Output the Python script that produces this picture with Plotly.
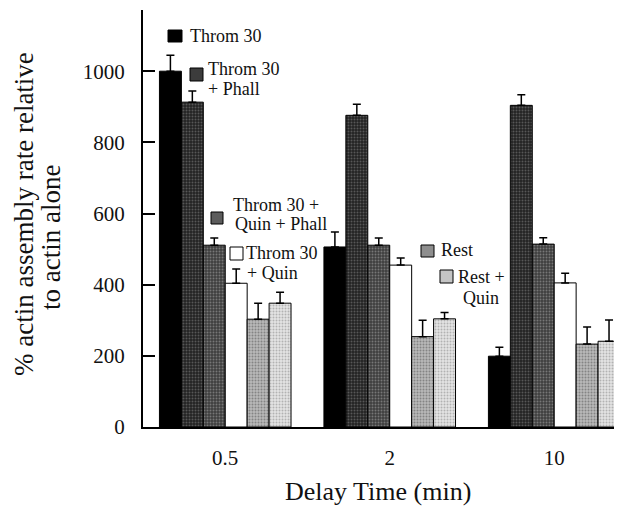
import plotly.graph_objects as go

delay_labels = ["0.5", "2", "10"]
series_names = ["Throm 30", "Throm 30 + Phall", "Throm 30 + Quin + Phall",
                "Throm 30 + Quin", "Rest", "Rest + Quin"]
throm30 = [1000, 506, 199]
throm30_phall = [913, 876, 904]
throm30_quin_phall = [511, 511, 514]
throm30_quin = [404, 455, 405]
rest = [303, 254, 233]
rest_quin = [348, 304, 241]
err_throm30 = [45, 42, 25]
err_throm30_phall = [31, 31, 30]
err_throm30_quin_phall = [20, 20, 18]
err_throm30_quin = [40, 20, 27]
err_rest = [45, 46, 48]
err_rest_quin = [31, 18, 60]

values = [throm30, throm30_phall, throm30_quin_phall, throm30_quin, rest, rest_quin]
errors = [err_throm30, err_throm30_phall, err_throm30_quin_phall, err_throm30_quin, err_rest, err_rest_quin]

styles = [
    dict(bg="#000000", fg="#000000", shape=""),
    dict(bg="#222222", fg="#8c8c8c", shape="."),
    dict(bg="#3e3e3e", fg="#b0b0b0", shape="."),
    dict(bg="#ffffff", fg="#ffffff", shape=""),
    dict(bg="#b8b8b8", fg="#505050", shape="."),
    dict(bg="#e4e4e4", fg="#808080", shape="."),
]
legend_fill = ["#000000", "#3c3c3c", "#5c5c5c", "#ffffff", "#8e8e8e", "#c4c4c4"]

FONT = "Liberation Serif"
OFF = 8  # default page body margin
W, H = 622 - OFF, 515 - OFF
L, R, T, B = 143 - OFF, 2, 10 - OFF, 88
YMAX = 1172

fig = go.Figure()
xs = list(range(len(delay_labels)))
for name, vals, errs, st in zip(series_names, values, errors, styles):
    fig.add_trace(go.Bar(
        x=xs, y=vals, name=name,
        marker=dict(color=st["bg"], line=dict(color="black", width=1),
                    pattern=dict(shape=st["shape"], bgcolor=st["bg"], fgcolor=st["fg"],
                                 size=3, solidity=0.35)),
        error_y=dict(type="data", array=errs, arrayminus=[0] * len(errs), symmetric=False,
                     color="black", thickness=1.5, width=4),
    ))

pw = W - L - R
ph = H - T - B


def px(x):
    return (x - OFF - L) / pw


def py(y):
    return (H - B - (y - OFF)) / ph


# in-plot legend: (square x0, y0, x1, y1), text lines with (x, y) positions (page pixels)
legend_items = [
    ((168, 30, 182, 42), [("Throm 30", 188, 36)]),
    ((190, 68, 203, 81), [("Throm 30", 206, 69), ("+ Phall", 206, 89)]),
    ((211, 212, 223, 224), [("Throm 30 +", 231, 205), ("Quin + Phall", 233, 224)]),
    ((230, 247, 243, 260), [("Throm 30", 244, 253), ("+ Quin", 245, 273)]),
    ((421, 245, 434, 257), [("Rest", 439, 250)]),
    ((440, 270, 453, 283), [("Rest +", 456, 277), ("Quin", 461, 298)]),
]
for (box, lines), fill in zip(legend_items, legend_fill):
    x0, y0, x1, y1 = box
    fig.add_shape(type="rect", xref="paper", yref="paper",
                  x0=px(x0), x1=px(x1), y0=py(y1), y1=py(y0),
                  fillcolor=fill, line=dict(color="black", width=1))
    for txt, tx, ty in lines:
        fig.add_annotation(text=txt, xref="paper", yref="paper", x=px(tx), y=py(ty),
                           xanchor="left", yanchor="middle", showarrow=False,
                           font=dict(family=FONT, size=18, color="#111"))

# axis titles
fig.add_annotation(text="% actin assembly rate relative", xref="paper", yref="paper",
                   x=px(24), y=py(214), textangle=-90, showarrow=False,
                   xanchor="center", yanchor="middle",
                   font=dict(family=FONT, size=27, color="#111"))
fig.add_annotation(text="to actin alone", xref="paper", yref="paper",
                   x=px(51), y=py(238), textangle=-90, showarrow=False,
                   xanchor="center", yanchor="middle",
                   font=dict(family=FONT, size=27, color="#111"))
fig.add_annotation(text="Delay Time (min)", xref="paper", yref="paper",
                   x=px(378), y=py(492), showarrow=False,
                   xanchor="center", yanchor="middle",
                   font=dict(family=FONT, size=26, color="#111"))

fig.update_layout(
    width=W, height=H,
    margin=dict(l=L, r=R, t=T, b=B),
    paper_bgcolor="white", plot_bgcolor="white",
    barmode="group", bargap=0.2, bargroupgap=0,
    showlegend=False,
    font=dict(family=FONT, color="#111"),
    xaxis=dict(range=[-0.5, 2.4], tickvals=xs, ticktext=delay_labels,
               showline=True, linecolor="black", linewidth=2, ticks="",
               showgrid=False, zeroline=False, tickfont=dict(size=21),
               ticklabelstandoff=11),
    yaxis=dict(range=[0, YMAX], tickvals=[0, 200, 400, 600, 800, 1000],
               showline=True, linecolor="black", linewidth=2,
               ticks="inside", ticklen=12, tickwidth=2, tickcolor="black",
               showgrid=False, zeroline=False, tickfont=dict(size=21),
               ticklabelstandoff=12),
)

fig.write_html("out.html")
